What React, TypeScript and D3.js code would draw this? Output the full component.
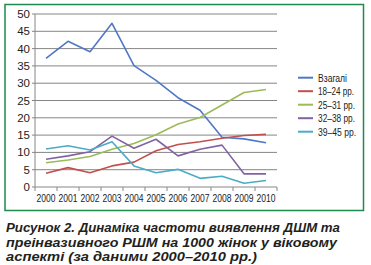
import React from "react";
import * as d3 from "d3";

const years = ["2000","2001","2002","2003","2004","2005","2006","2007","2008","2009","2010"];
const seriesNames = ["Взагалі","18–24 рр.","25–31 рр.","32–38 рр.","39–45 рр."];
const total = [37.2,42.1,39.1,47.3,35.1,30.8,25.8,22.2,14.4,13.9,12.8];
const age18 = [4.0,5.6,4.1,6.1,7.2,10.5,12.3,13.1,14.1,14.9,15.2];
const age25 = [7.0,7.8,8.8,10.9,12.6,15.1,18.2,20.1,23.7,27.3,28.2];
const age32 = [8.0,9.0,10.2,14.7,11.2,13.8,9.0,10.9,12.1,3.8,3.8];
const age39 = [11.0,11.9,10.7,13.1,6.1,4.1,5.1,2.5,3.1,1.1,1.9];
const yTicks = [0,5,10,15,20,25,30,35,40,45,50];
const colors = ["#4f78c4","#c0504d","#9bbb59","#8064a2","#4bacc6"];
const captionLines = [
  "Рисунок 2. Динаміка частоти виявлення ДШМ та",
  "преінвазивного РШМ на 1000 жінок у віковому",
  "аспекті (за даними 2000–2010 рр.)",
];

export default function App() {
  const data = [total, age18, age25, age32, age39];
  const x = d3.scaleBand<string>().domain(years).range([35, 277]);
  const y = d3.scaleLinear().domain([0, 50]).range([187, 14]);
  const line = d3.line<number>()
    .x((_, i) => (x(years[i]) as number) + x.bandwidth() / 2)
    .y((d) => y(d));
  const font = "Arial, 'Liberation Sans', sans-serif";
  const boundaries = years.map((yr) => x(yr) as number).concat([277]);
  const legendLen = [29, 36, 37, 37, 38];
  return (
    <svg width={371} height={265} style={{ position: "absolute", left: 0, top: 0, background: "#fff" }}>
      <rect x={5} y={4.5} width={358.5} height={206} fill="none" stroke="#1e8a4c" strokeWidth={1.5} />
      {yTicks.map((t) => (
        <g key={t}>
          <line x1={32} x2={277} y1={y(t)} y2={y(t)} stroke="#868686" strokeWidth={1} />
          <text x={30} y={y(t) + 4} textAnchor="end" fontFamily={font} fontSize={11.5} fill="#222">{t}</text>
        </g>
      ))}
      <line x1={35} x2={35} y1={14} y2={187} stroke="#868686" strokeWidth={1} />
      {boundaries.map((b, i) => (
        <line key={i} x1={b} x2={b} y1={187} y2={191} stroke="#868686" strokeWidth={1} />
      ))}
      {years.map((yr) => (
        <text key={yr} x={(x(yr) as number) + x.bandwidth() / 2 - 9.5} y={202} fontFamily={font} fontSize={10.5} fill="#222"
          textLength={19} lengthAdjust="spacingAndGlyphs">{yr}</text>
      ))}
      {data.map((s, i) => (
        <path key={i} d={line(s) as string} fill="none" stroke={colors[i]} strokeWidth={1.6} strokeLinejoin="round" />
      ))}
      {seriesNames.map((n, i) => (
        <g key={n}>
          <line x1={298} x2={313} y1={77.7 + i * 13.5} y2={77.7 + i * 13.5} stroke={colors[i]} strokeWidth={2} />
          <text x={318} y={81.5 + i * 13.5} fontFamily={font} fontSize={11} fill="#222"
            textLength={legendLen[i]} lengthAdjust="spacingAndGlyphs">{n}</text>
        </g>
      ))}
      {captionLines.map((c, i) => (
        <text key={i} x={6} y={232 + i * 14.5} fontFamily={font} fontWeight="bold" fontStyle="italic" fontSize={13.5} fill="#231f20"
          textLength={[334, 331, 251][i]} lengthAdjust="spacingAndGlyphs">{c}</text>
      ))}
    </svg>
  );
}
